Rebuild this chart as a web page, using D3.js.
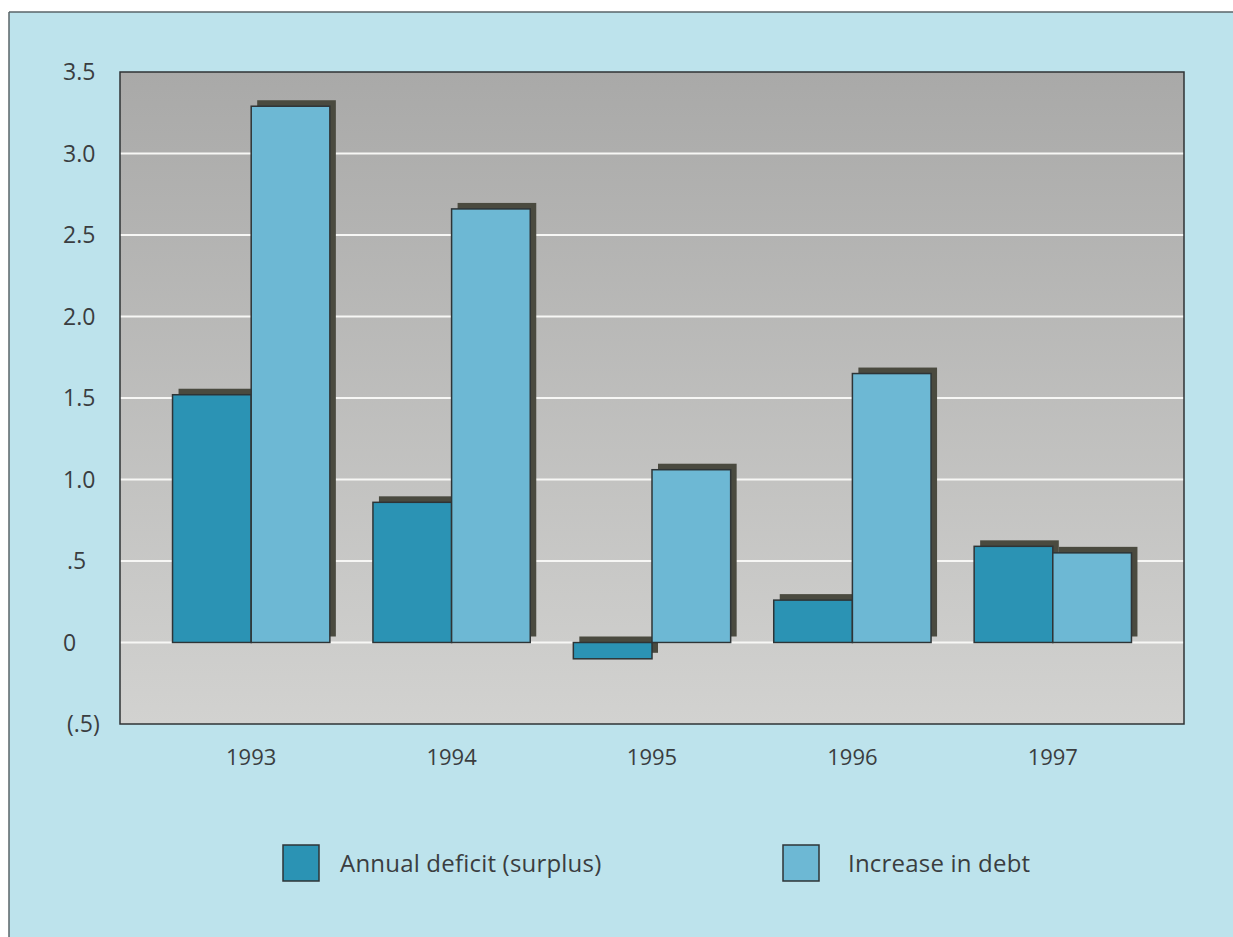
<!DOCTYPE html>
<html>
<head>
<meta charset="utf-8">
<script src="https://cdn.jsdelivr.net/npm/d3@7"></script>
<style>
  html, body { margin: 0; padding: 0; background: #ffffff; }
  svg { display: block; }
  text { font-family: "Open Sans", Lato, sans-serif; fill: #3a3d40; }
</style>
</head>
<body>
<svg id="chart" width="1233" height="937"></svg>
<script>
// Budget figures plotted per year
const years = ["1993", "1994", "1995", "1996", "1997"];
const seriesNames = ["Annual deficit (surplus)", "Increase in debt"];
const deficit = [1.52, 0.86, -0.1, 0.26, 0.59];
const debtIncrease = [3.29, 2.66, 1.06, 1.65, 0.55];
const tickValues = [-0.5, 0, 0.5, 1.0, 1.5, 2.0, 2.5, 3.0, 3.5];
const tickLabels = ["(.5)", "0", ".5", "1.0", "1.5", "2.0", "2.5", "3.0", "3.5"];
const gridValues = [0, 0.5, 1.0, 1.5, 2.0, 2.5, 3.0];

const colors = ["#2b93b4", "#6db8d4"];
const shadowColor = "#4a4a3f";
const outline = "#2e3436";

const svg = d3.select("#chart");

// Outer light-blue panel
svg.append("rect")
  .attr("x", 9).attr("y", 12).attr("width", 1233 - 9).attr("height", 937 - 12)
  .attr("fill", "#bde3ec");
svg.append("line").attr("x1", 9).attr("x2", 1233).attr("y1", 12).attr("y2", 12)
  .attr("stroke", "#5a6468").attr("stroke-width", 1.5);
svg.append("line").attr("x1", 9).attr("x2", 9).attr("y1", 12).attr("y2", 937)
  .attr("stroke", "#5a6468").attr("stroke-width", 1.5);

const plot = { left: 120, right: 1184, top: 72, bottom: 724 };

const y = d3.scaleLinear().domain([-0.5, 3.5]).range([plot.bottom, plot.top]);
const x = d3.scaleBand().domain(years).range([151, 1153]).paddingInner(0.215).paddingOuter(0.1075);
const xSub = d3.scaleBand().domain(seriesNames).range([0, x.bandwidth()]);

// Plot background gradient (darker toward the top)
const defs = svg.append("defs");
const grad = defs.append("linearGradient").attr("id", "plotBg")
  .attr("x1", 0).attr("y1", 0).attr("x2", 0).attr("y2", 1);
grad.append("stop").attr("offset", "0%").attr("stop-color", "#a9a9a8");
grad.append("stop").attr("offset", "100%").attr("stop-color", "#d2d2d0");

svg.append("rect")
  .attr("x", plot.left).attr("y", plot.top)
  .attr("width", plot.right - plot.left).attr("height", plot.bottom - plot.top)
  .attr("fill", "url(#plotBg)");

// White gridlines
svg.append("g").selectAll("line").data(gridValues).join("line")
  .attr("x1", plot.left).attr("x2", plot.right)
  .attr("y1", d => y(d)).attr("y2", d => y(d))
  .attr("stroke", "#f7f7f5").attr("stroke-width", 2);

// Plot frame
svg.append("rect")
  .attr("x", plot.left).attr("y", plot.top)
  .attr("width", plot.right - plot.left).attr("height", plot.bottom - plot.top)
  .attr("fill", "none").attr("stroke", "#2f3335").attr("stroke-width", 1.5);

// Bars with offset drop shadows
const rows = years.map((yr, i) => ({ year: yr, values: [deficit[i], debtIncrease[i]] }));
const shadowDx = 6, shadowDy = -6;

const groups = svg.append("g").selectAll("g").data(rows).join("g")
  .attr("transform", d => `translate(${x(d.year)},0)`);

const cells = d => d.values.map((v, j) => ({ name: seriesNames[j], value: v, j }));

groups.each(function(d) {
  const g = d3.select(this);
  cells(d).forEach(c => {
    const top = y(Math.max(0, c.value)), bot = y(Math.min(0, c.value));
    g.append("rect")
      .attr("x", xSub(c.name) + shadowDx).attr("y", top + shadowDy)
      .attr("width", xSub.bandwidth()).attr("height", bot - top)
      .attr("fill", shadowColor);
    g.append("rect")
      .attr("x", xSub(c.name)).attr("y", top)
      .attr("width", xSub.bandwidth()).attr("height", bot - top)
      .attr("fill", colors[c.j]).attr("stroke", outline).attr("stroke-width", 1.5);
  });
});

// Y axis labels
svg.append("g").selectAll("text").data(tickValues).join("text")
  .attr("x", (d, i) => /^[(.]/.test(tickLabels[i]) ? 67 : 63)
  .attr("y", d => y(d)).attr("dy", "0.36em")
  .attr("font-size", 23)
  .text((d, i) => tickLabels[i]);

// X axis labels
svg.append("g").selectAll("text").data(years).join("text")
  .attr("x", d => x(d) + x.bandwidth() / 2)
  .attr("y", 765)
  .attr("text-anchor", "middle")
  .attr("font-size", 22)
  .text(d => d);

// Legend
const legendX = [283, 783];
const legendTextX = [57, 65];
const legend = svg.append("g").selectAll("g").data(seriesNames).join("g")
  .attr("transform", (d, i) => `translate(${legendX[i]},845)`);
legend.append("rect")
  .attr("width", 36).attr("height", 36)
  .attr("fill", (d, i) => colors[i]).attr("stroke", outline).attr("stroke-width", 1.5);
legend.append("text")
  .attr("x", (d, i) => legendTextX[i]).attr("y", 18).attr("dy", "0.36em")
  .attr("font-size", 24)
  .attr("letter-spacing", 0.2)
  .text(d => d);
</script>
</body>
</html>
